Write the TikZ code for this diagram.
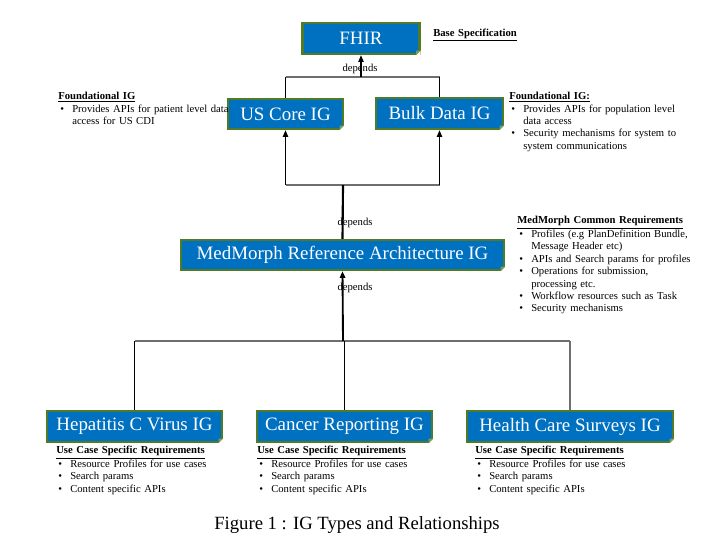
\documentclass[tikz,border=0pt]{standalone}
\usepackage{fontspec}
\setmainfont{Liberation Serif}
\usetikzlibrary{arrows.meta}
\definecolor{igblue}{RGB}{0,112,192}
\definecolor{iggreen}{RGB}{79,122,40}
\definecolor{lnk}{RGB}{110,110,110}
\newcommand\ttl[1]{\noindent\textbf{\underline{#1}}\par}
\newcommand\bul[1]{\par\noindent\hangindent=10.5pt\hangafter=1\hspace*{1.5pt}\makebox[9pt][l]{\textbullet}#1\par}
\begin{document}
\begin{tikzpicture}[x=0.75pt,y=-0.75pt,
  igbox/.style={rectangle, fill=igblue, draw=iggreen, line width=1.8pt, text=white,
    font=\fontsize{14.2}{16}\selectfont, inner sep=0pt},
  note/.style={anchor=north west, inner sep=0pt, align=left, text width=#1,
    font=\fontsize{8}{9.3}\selectfont},
  note/.default=200,
  dep/.style={font=\fontsize{8}{9}\selectfont, inner sep=0pt},
  arr/.style={-{Triangle[length=5pt,width=4pt]}, line width=0.8pt, black},
  vln/.style={line width=0.8pt, black},
  hln/.style={line width=0.9pt, lnk}]
\useasboundingbox (0,0) rectangle (720,540);
\fill[white] (0,0) rectangle (720,540);

% boxes
\node[igbox, minimum width=117*0.75pt, minimum height=31*0.75pt] (fhir) at (361,38.5) {FHIR};
\node[igbox, minimum width=115*0.75pt, minimum height=30*0.75pt] (us) at (285.5,114) {US Core IG};
\node[igbox, minimum width=127*0.75pt, minimum height=31*0.75pt] (bulk) at (439.5,113.5) {Bulk Data IG};
\node[igbox, minimum width=323*0.75pt, minimum height=30*0.75pt] (mm) at (342.5,255) {MedMorph Reference Architecture IG};
\node[igbox, minimum width=175*0.75pt, minimum height=31*0.75pt] (hep) at (134.5,426.5) {Hepatitis C Virus IG};
\node[igbox, minimum width=175*0.75pt, minimum height=31*0.75pt] (can) at (344.5,426.5) {Cancer Reporting IG};
\node[igbox, minimum width=206*0.75pt, minimum height=31*0.75pt] (hcs) at (570,426.5) {Health Care Surveys IG};

% folded corners
\foreach \n in {fhir,us,bulk,mm,hep,can,hcs}{
  \fill[white] ([xshift=-3.5pt]\n.south east) -- (\n.south east) -- ([yshift=3.5pt]\n.south east) -- cycle;
  \fill[iggreen!75!white] ([xshift=-3.5pt]\n.south east) -- ([yshift=3.5pt]\n.south east) -- ([xshift=-3.5pt,yshift=3.5pt]\n.south east) -- cycle;
}

% junction coordinates
\coordinate (j1) at (361,77);
\coordinate (j2) at (343,185);
\coordinate (j3) at (343,341);

% FHIR links
\draw[hln] (us.north |- j1) -- (bulk.north |- j1);
\draw[vln] (us.north) -- (us.north |- j1);
\draw[vln] (bulk.north) -- (bulk.north |- j1);
\draw[arr] (j1) -- (fhir.south);
\node[dep] (d1) at (360,69) {depends};

% US Core / Bulk links
\draw[hln] (us.south |- j2) -- (bulk.south |- j2);
\draw[arr] (us.south |- j2) -- (us.south);
\draw[arr] (bulk.south |- j2) -- (bulk.south);
\draw[line width=1.6pt, black] (mm.north) -- (j2);
\node[dep] (d2) at (355,223) {depends};

% use case links
\draw[hln] (hep.north |- j3) -- (hcs.north |- j3);
\draw[vln] (hep.north) -- (hep.north |- j3);
\draw[vln] (can.north) -- (can.north |- j3);
\draw[hln] (hcs.north) -- (hcs.north |- j3);
\draw[arr, line width=1.4pt] (j3) -- (mm.south);
\node[dep] (d3) at (355,288) {depends};

% notes
\node[note] (base) at (433,28.5) {\ttl{Base Specification}};
\node[note=170] (fl) at (58,92) {\ttl{Foundational IG}\bul{Provides APIs for patient level data\newline access for US CDI}};
\node[note=200] (fr) at (509,92) {\ttl{Foundational IG:}\bul{Provides APIs for population level\newline data access}\bul{Security mechanisms for system to\newline system communications}};
\node[note=200] (mr) at (517,216) {\ttl{MedMorph Common Requirements}\bul{Profiles (e.g PlanDefinition Bundle,\newline Message Header etc)}\bul{APIs and Search params for profiles}\bul{Operations for submission,\newline processing etc.}\bul{Workflow resources such as Task}\bul{Security mechanisms}};
\node[note] (uh) at (56,446) {\ttl{Use Case Specific Requirements}\bul{Resource Profiles for use cases}\bul{Search params}\bul{Content specific APIs}};
\node[note] (uc) at (257,446) {\ttl{Use Case Specific Requirements}\bul{Resource Profiles for use cases}\bul{Search params}\bul{Content specific APIs}};
\node[note] (uv) at (475,446) {\ttl{Use Case Specific Requirements}\bul{Resource Profiles for use cases}\bul{Search params}\bul{Content specific APIs}};

% caption
\node[font=\fontsize{14}{16}\selectfont, inner sep=0pt] (cap) at (357,525) {Figure 1 : IG Types and Relationships};
\end{tikzpicture}
\end{document}
